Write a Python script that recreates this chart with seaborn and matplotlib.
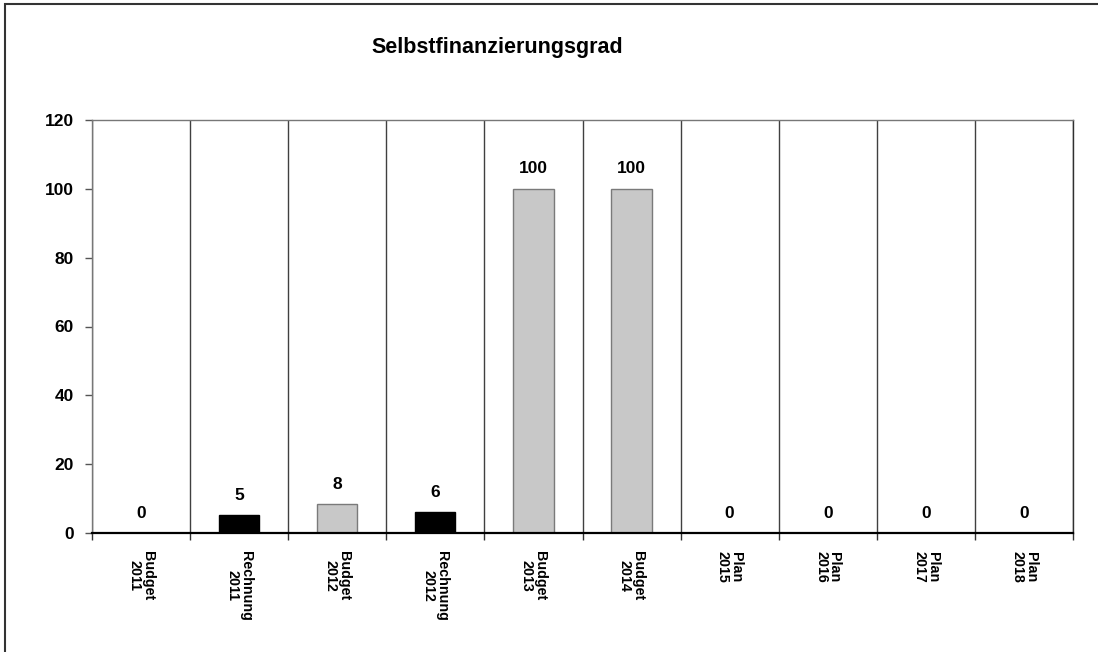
import matplotlib
matplotlib.use("Agg")
import matplotlib.pyplot as plt
import seaborn as sns
import pandas as pd
from matplotlib.patches import Rectangle

categories = ["Budget\n2011", "Rechnung\n2011", "Budget\n2012", "Rechnung\n2012",
              "Budget\n2013", "Budget\n2014", "Plan\n2015", "Plan\n2016",
              "Plan\n2017", "Plan\n2018"]
values = [0, 5.2, 8.4, 6.1, 100, 100, 0, 0, 0, 0]
kinds = ["Budget", "Rechnung", "Budget", "Rechnung", "Budget", "Budget",
         "Plan", "Plan", "Plan", "Plan"]
yticks = [0, 20, 40, 60, 80, 100, 120]
title = "Selbstfinanzierungsgrad"

sns.set_theme(style="white")
plt.rcParams['font.family'] = ['Liberation Sans', 'DejaVu Sans']
plt.rcParams['text.color'] = 'black'
plt.rcParams['xtick.color'] = 'black'
plt.rcParams['ytick.color'] = 'black'
plt.rcParams['xtick.labelcolor'] = 'black'
plt.rcParams['ytick.labelcolor'] = 'black'

df = pd.DataFrame({"cat": categories, "val": values, "kind": kinds})

fig = plt.figure(figsize=(10.98, 6.52), dpi=100)
ax = fig.add_axes([92/1098, 1 - 533/652, (1073-92)/1098, (533-120)/652])

palette = {"Budget": "#c8c8c8", "Rechnung": "#000000", "Plan": "#c8c8c8"}
sns.barplot(data=df, x="cat", y="val", hue="kind", palette=palette,
            dodge=False, width=0.41, legend=False, ax=ax, saturation=1)
for p, k in zip(sorted(ax.patches, key=lambda r: r.get_x()), kinds):
    if k == "Rechnung":
        p.set_edgecolor("#000000")
    else:
        p.set_edgecolor("#7a7a7a")
    p.set_linewidth(1.0)

ax.set_ylim(0, 120)
ax.set_xlim(-0.5, len(categories) - 0.5)
ax.set_yticks(yticks)
ax.set_yticklabels([str(t) for t in yticks], fontsize=12.5, fontweight="bold")
ax.tick_params(axis="y", direction="out", length=5, width=1, color="#555555",
               left=True, pad=8)

bounds = [i - 0.5 for i in range(len(categories) + 1)]
ax.set_xticks(bounds)
ax.set_xticklabels([])
ax.tick_params(axis="x", which="major", direction="out", length=5, width=1,
               color="#333333", bottom=True)
ax.set_xticks(range(len(categories)), minor=True)
ax.set_xticklabels(categories, minor=True, rotation=-90, fontsize=10.3,
                   fontweight="bold", va="top", ha="center", linespacing=0.95)
ax.tick_params(axis="x", which="minor", length=0, pad=13)
ax.grid(axis="x", which="major", color="#404040", linewidth=1.0)
ax.grid(axis="y", visible=False)
ax.set_axisbelow(True)
ax.set_xlabel("")
ax.set_ylabel("")

for s in ["left", "top"]:
    ax.spines[s].set_color("#777777")
    ax.spines[s].set_linewidth(1.0)
ax.spines["right"].set_color("#303030")
ax.spines["right"].set_linewidth(1.0)
ax.spines["bottom"].set_color("#000000")
ax.spines["bottom"].set_linewidth(1.6)

for i, v in enumerate(values):
    ax.annotate(f"{v:.0f}", xy=(i, v), xytext=(0, 9), textcoords="offset points",
                ha="center", va="bottom", fontsize=12.5, fontweight="bold",
                color="black")

fig.text(497/1098, 1 - 48/652, title, ha="center", va="center",
         fontsize=15.5, fontweight="bold", color="black")

fig.patches.append(Rectangle((5/1098, -0.1), 1.2, 1 - 4/652 + 0.1,
                             transform=fig.transFigure, fill=False,
                             edgecolor="#333333", linewidth=1.5))

fig.savefig("out.png", dpi=100)
